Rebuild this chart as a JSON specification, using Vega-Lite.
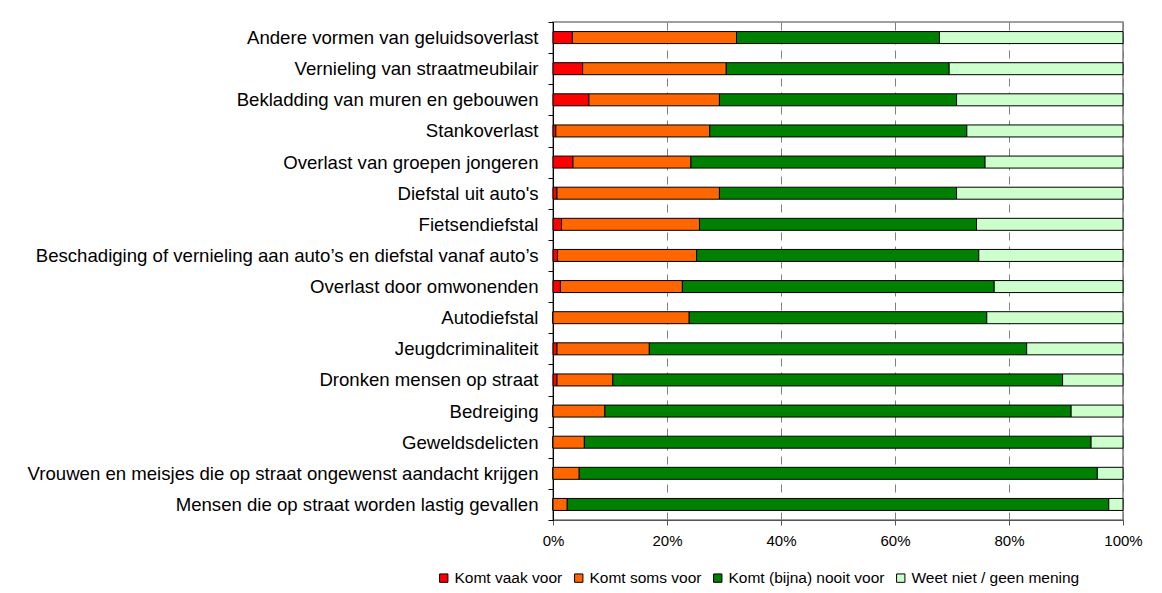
{
  "$schema": "https://vega.github.io/schema/vega-lite/v6.json",
  "width": 570,
  "height": 498,
  "autosize": {"type": "none"},
  "padding": {"left": 553, "top": 22, "right": 39, "bottom": 73},
  "background": "white",
  "config": {
    "font": "Liberation Sans",
    "view": {"stroke": "#808080", "strokeWidth": 1.5}
  },
  "data": {
    "values": [
      {"item": "Andere vormen van geluidsoverlast", "antwoord": "Komt vaak voor", "pct": 3.4},
      {"item": "Andere vormen van geluidsoverlast", "antwoord": "Komt soms voor", "pct": 28.8},
      {"item": "Andere vormen van geluidsoverlast", "antwoord": "Komt (bijna) nooit voor", "pct": 35.6},
      {"item": "Andere vormen van geluidsoverlast", "antwoord": "Weet niet / geen mening", "pct": 32.2},
      {"item": "Vernieling van straatmeubilair", "antwoord": "Komt vaak voor", "pct": 5.2},
      {"item": "Vernieling van straatmeubilair", "antwoord": "Komt soms voor", "pct": 25.2},
      {"item": "Vernieling van straatmeubilair", "antwoord": "Komt (bijna) nooit voor", "pct": 39.1},
      {"item": "Vernieling van straatmeubilair", "antwoord": "Weet niet / geen mening", "pct": 30.5},
      {"item": "Bekladding van muren en gebouwen", "antwoord": "Komt vaak voor", "pct": 6.3},
      {"item": "Bekladding van muren en gebouwen", "antwoord": "Komt soms voor", "pct": 22.9},
      {"item": "Bekladding van muren en gebouwen", "antwoord": "Komt (bijna) nooit voor", "pct": 41.6},
      {"item": "Bekladding van muren en gebouwen", "antwoord": "Weet niet / geen mening", "pct": 29.2},
      {"item": "Stankoverlast", "antwoord": "Komt vaak voor", "pct": 0.5},
      {"item": "Stankoverlast", "antwoord": "Komt soms voor", "pct": 27.0},
      {"item": "Stankoverlast", "antwoord": "Komt (bijna) nooit voor", "pct": 45.1},
      {"item": "Stankoverlast", "antwoord": "Weet niet / geen mening", "pct": 27.4},
      {"item": "Overlast  van groepen jongeren", "antwoord": "Komt vaak voor", "pct": 3.5},
      {"item": "Overlast  van groepen jongeren", "antwoord": "Komt soms voor", "pct": 20.7},
      {"item": "Overlast  van groepen jongeren", "antwoord": "Komt (bijna) nooit voor", "pct": 51.6},
      {"item": "Overlast  van groepen jongeren", "antwoord": "Weet niet / geen mening", "pct": 24.2},
      {"item": "Diefstal uit auto's", "antwoord": "Komt vaak voor", "pct": 0.7},
      {"item": "Diefstal uit auto's", "antwoord": "Komt soms voor", "pct": 28.5},
      {"item": "Diefstal uit auto's", "antwoord": "Komt (bijna) nooit voor", "pct": 41.6},
      {"item": "Diefstal uit auto's", "antwoord": "Weet niet / geen mening", "pct": 29.2},
      {"item": "Fietsendiefstal", "antwoord": "Komt vaak voor", "pct": 1.5},
      {"item": "Fietsendiefstal", "antwoord": "Komt soms voor", "pct": 24.2},
      {"item": "Fietsendiefstal", "antwoord": "Komt (bijna) nooit voor", "pct": 48.6},
      {"item": "Fietsendiefstal", "antwoord": "Weet niet / geen mening", "pct": 25.7},
      {"item": "Beschadiging of vernieling aan auto’s en diefstal vanaf auto’s", "antwoord": "Komt vaak voor", "pct": 0.8},
      {"item": "Beschadiging of vernieling aan auto’s en diefstal vanaf auto’s", "antwoord": "Komt soms voor", "pct": 24.4},
      {"item": "Beschadiging of vernieling aan auto’s en diefstal vanaf auto’s", "antwoord": "Komt (bijna) nooit voor", "pct": 49.5},
      {"item": "Beschadiging of vernieling aan auto’s en diefstal vanaf auto’s", "antwoord": "Weet niet / geen mening", "pct": 25.3},
      {"item": "Overlast door omwonenden", "antwoord": "Komt vaak voor", "pct": 1.3},
      {"item": "Overlast door omwonenden", "antwoord": "Komt soms voor", "pct": 21.4},
      {"item": "Overlast door omwonenden", "antwoord": "Komt (bijna) nooit voor", "pct": 54.7},
      {"item": "Overlast door omwonenden", "antwoord": "Weet niet / geen mening", "pct": 22.6},
      {"item": "Autodiefstal", "antwoord": "Komt vaak voor", "pct": 0.0},
      {"item": "Autodiefstal", "antwoord": "Komt soms voor", "pct": 23.9},
      {"item": "Autodiefstal", "antwoord": "Komt (bijna) nooit voor", "pct": 52.2},
      {"item": "Autodiefstal", "antwoord": "Weet niet / geen mening", "pct": 23.9},
      {"item": "Jeugdcriminaliteit", "antwoord": "Komt vaak voor", "pct": 0.7},
      {"item": "Jeugdcriminaliteit", "antwoord": "Komt soms voor", "pct": 16.2},
      {"item": "Jeugdcriminaliteit", "antwoord": "Komt (bijna) nooit voor", "pct": 66.2},
      {"item": "Jeugdcriminaliteit", "antwoord": "Weet niet / geen mening", "pct": 16.9},
      {"item": "Dronken mensen op straat", "antwoord": "Komt vaak voor", "pct": 0.7},
      {"item": "Dronken mensen op straat", "antwoord": "Komt soms voor", "pct": 9.8},
      {"item": "Dronken mensen op straat", "antwoord": "Komt (bijna) nooit voor", "pct": 78.9},
      {"item": "Dronken mensen op straat", "antwoord": "Weet niet / geen mening", "pct": 10.6},
      {"item": "Bedreiging", "antwoord": "Komt vaak voor", "pct": 0.0},
      {"item": "Bedreiging", "antwoord": "Komt soms voor", "pct": 9.1},
      {"item": "Bedreiging", "antwoord": "Komt (bijna) nooit voor", "pct": 81.8},
      {"item": "Bedreiging", "antwoord": "Weet niet / geen mening", "pct": 9.1},
      {"item": "Geweldsdelicten", "antwoord": "Komt vaak voor", "pct": 0.0},
      {"item": "Geweldsdelicten", "antwoord": "Komt soms voor", "pct": 5.5},
      {"item": "Geweldsdelicten", "antwoord": "Komt (bijna) nooit voor", "pct": 88.9},
      {"item": "Geweldsdelicten", "antwoord": "Weet niet / geen mening", "pct": 5.6},
      {"item": "Vrouwen en meisjes die op straat ongewenst aandacht krijgen", "antwoord": "Komt vaak voor", "pct": 0.0},
      {"item": "Vrouwen en meisjes die op straat ongewenst aandacht krijgen", "antwoord": "Komt soms voor", "pct": 4.6},
      {"item": "Vrouwen en meisjes die op straat ongewenst aandacht krijgen", "antwoord": "Komt (bijna) nooit voor", "pct": 90.9},
      {"item": "Vrouwen en meisjes die op straat ongewenst aandacht krijgen", "antwoord": "Weet niet / geen mening", "pct": 4.5},
      {"item": "Mensen die op straat worden lastig gevallen", "antwoord": "Komt vaak voor", "pct": 0.0},
      {"item": "Mensen die op straat worden lastig gevallen", "antwoord": "Komt soms voor", "pct": 2.5},
      {"item": "Mensen die op straat worden lastig gevallen", "antwoord": "Komt (bijna) nooit voor", "pct": 95.0},
      {"item": "Mensen die op straat worden lastig gevallen", "antwoord": "Weet niet / geen mening", "pct": 2.5}
    ]
  },
  "transform": [
    {"calculate": "indexof(['Komt vaak voor', 'Komt soms voor', 'Komt (bijna) nooit voor', 'Weet niet / geen mening'], datum.antwoord)", "as": "volgorde"}
  ],
  "mark": {"type": "bar", "size": 12, "stroke": "black", "strokeWidth": 1},
  "encoding": {
    "y": {
      "field": "item",
      "type": "nominal",
      "sort": null,
      "scale": {"paddingInner": 0, "paddingOuter": 0},
      "axis": {
        "title": null,
        "tickBand": "extent",
        "domainColor": "black",
        "tickColor": "black",
        "tickSize": 5,
        "labelPadding": 10,
        "labelFontSize": 18.6,
        "labelColor": "black",
        "labelLimit": 700,
        "grid": false
      }
    },
    "x": {
      "field": "pct",
      "type": "quantitative",
      "stack": "normalize",
      "scale": {"domain": [0, 1], "nice": false},
      "axis": {
        "title": null,
        "values": [0, 0.2, 0.4, 0.6, 0.8, 1],
        "format": ".0%",
        "grid": true,
        "gridDash": [8, 6],
        "gridColor": "#808080",
        "domainColor": "#555555",
        "tickColor": "#555555",
        "tickSize": 5,
        "labelFontSize": 15,
        "labelColor": "black",
        "labelPadding": 8,
        "labelFlush": false
      }
    },
    "color": {
      "field": "antwoord",
      "type": "nominal",
      "sort": ["Komt vaak voor", "Komt soms voor", "Komt (bijna) nooit voor", "Weet niet / geen mening"],
      "scale": {
        "domain": ["Komt vaak voor", "Komt soms voor", "Komt (bijna) nooit voor", "Weet niet / geen mening"],
        "range": ["#FF0000", "#FF6600", "#008000", "#CCFFCC"]
      },
      "legend": {
        "title": null,
        "orient": "none",
        "direction": "horizontal",
        "legendX": -117,
        "legendY": 548,
        "symbolType": "square",
        "symbolSize": 70,
        "symbolStrokeColor": "black",
        "symbolStrokeWidth": 1,
        "labelFontSize": 15.5,
        "labelColor": "black",
        "labelOffset": 3,
        "labelLimit": 400,
        "columnPadding": 8
      }
    },
    "order": {"field": "volgorde", "type": "quantitative"}
  }
}
